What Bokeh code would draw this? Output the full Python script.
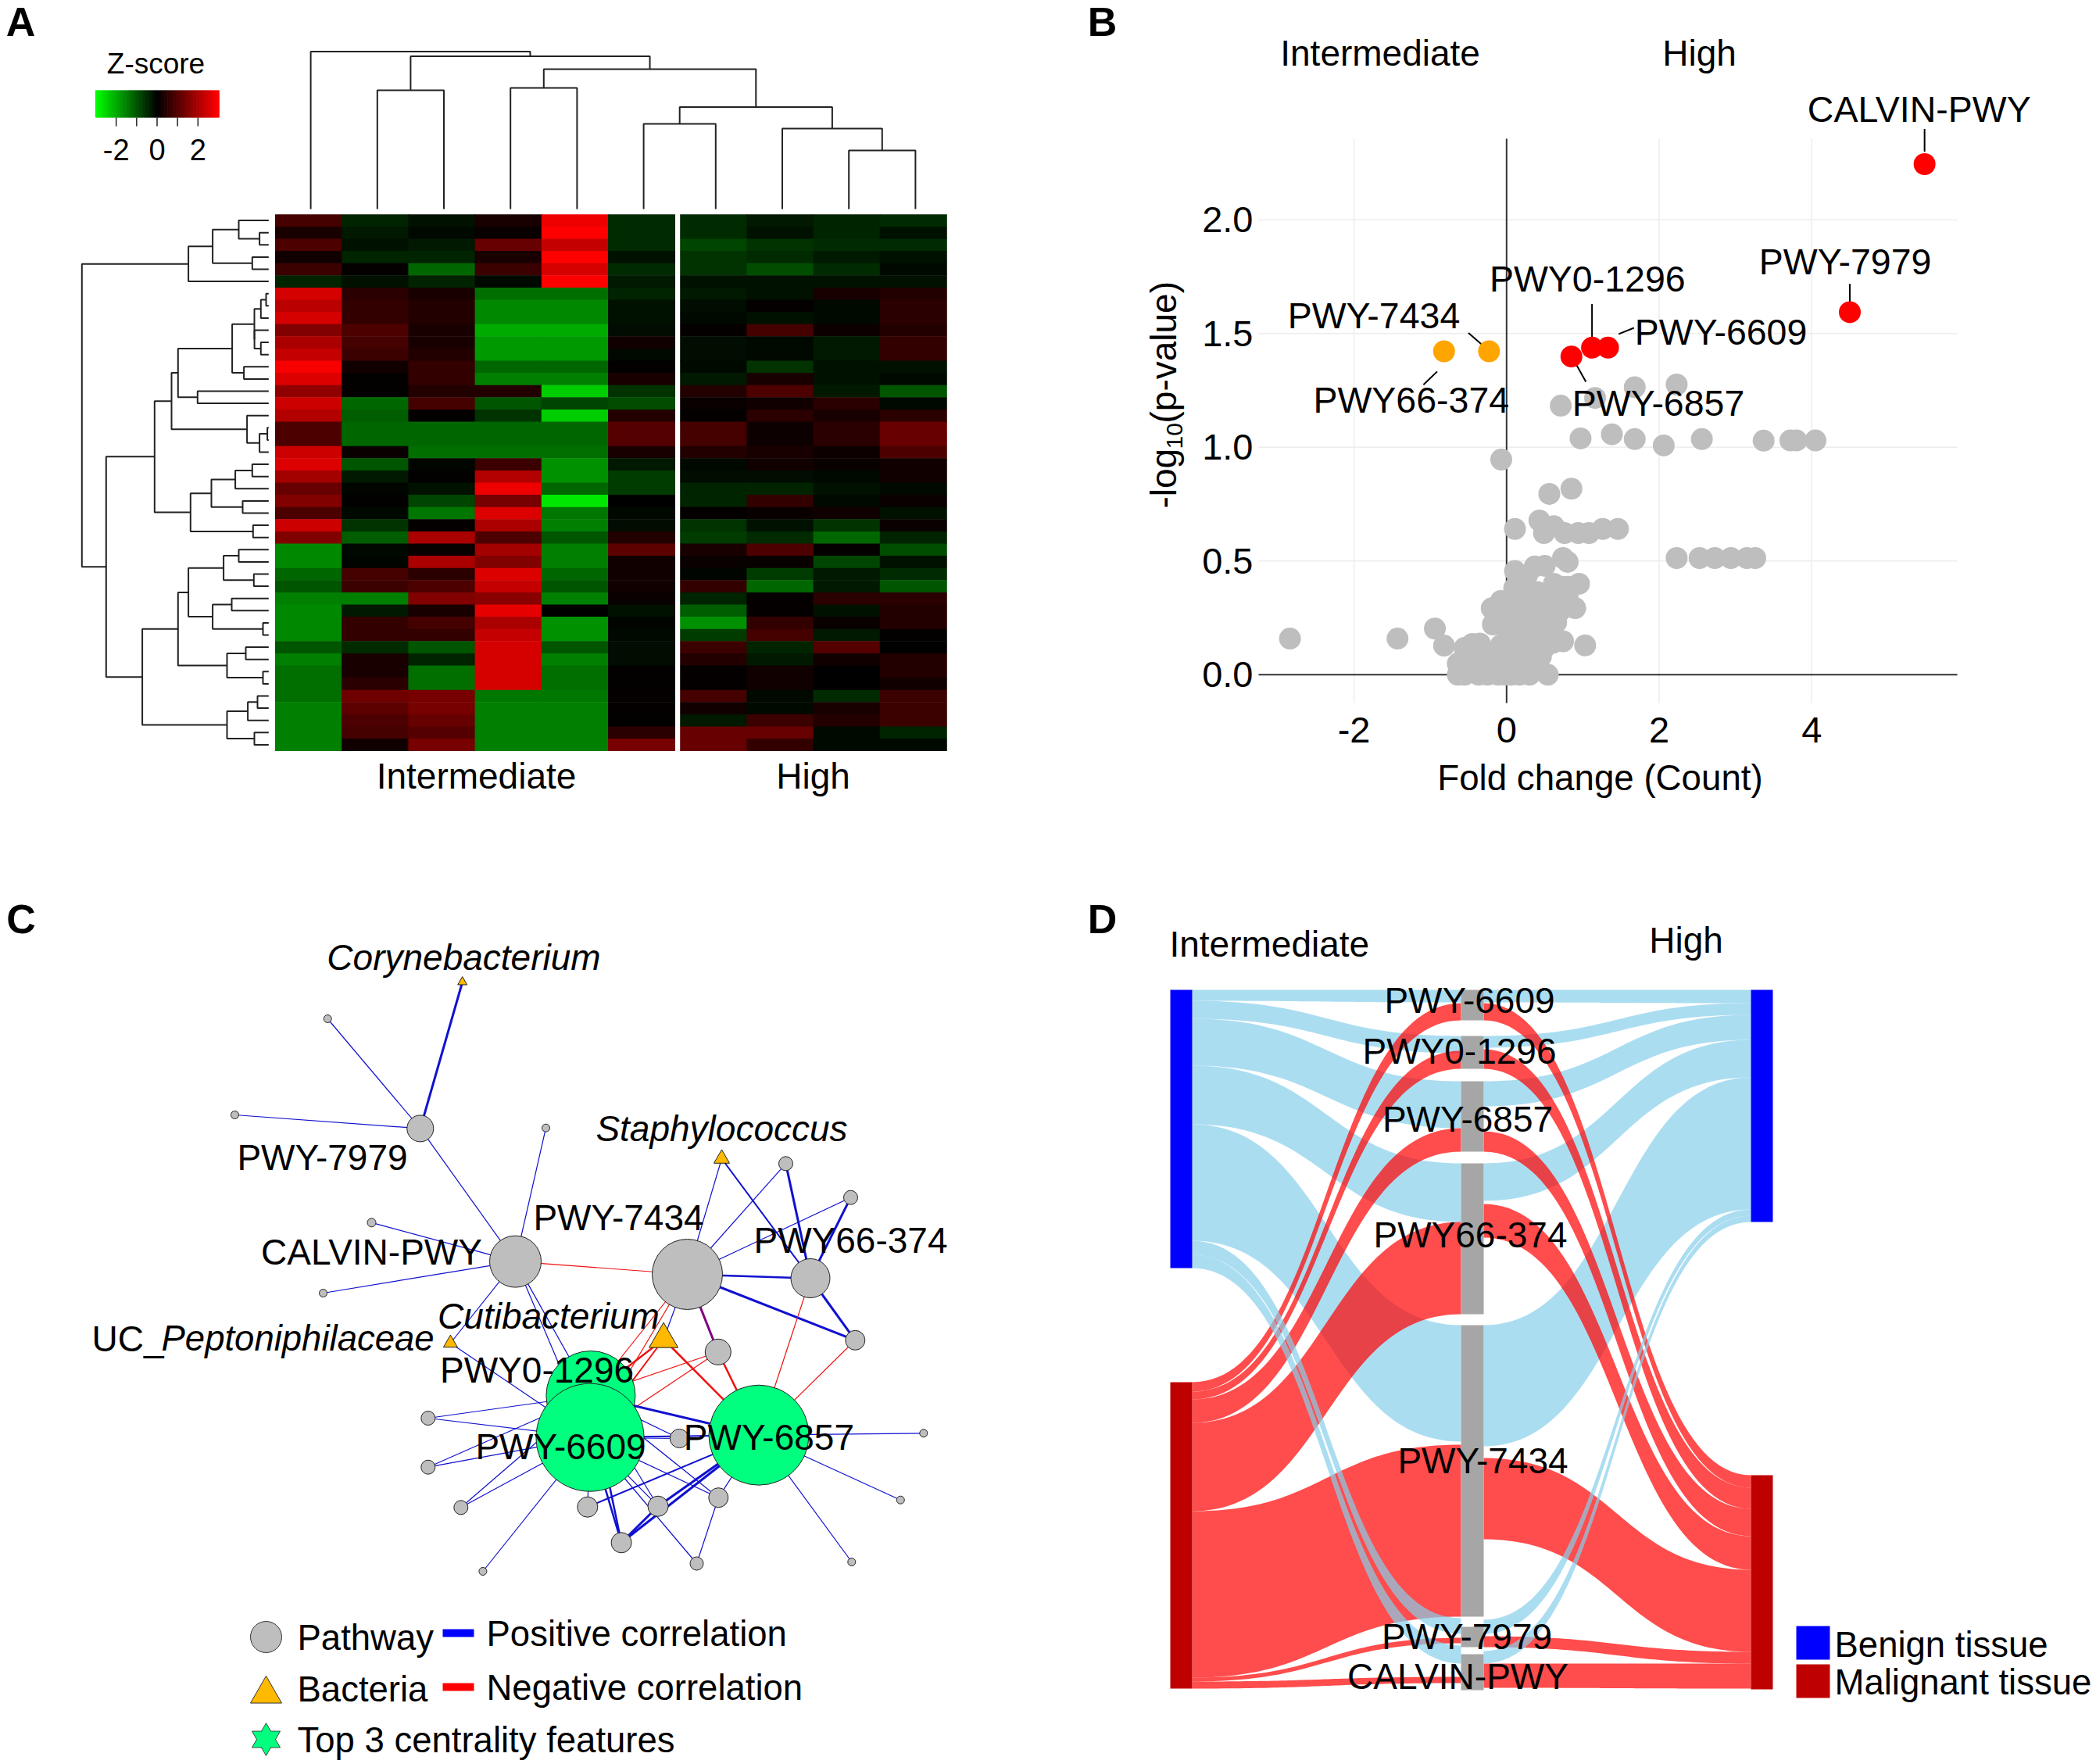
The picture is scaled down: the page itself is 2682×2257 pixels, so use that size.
from bokeh.plotting import figure
from bokeh.layouts import row, column
from bokeh.models import Range1d, LinearAxis, LinearColorMapper, FixedTicker, ColumnDataSource
from bokeh.core.properties import value
from bokeh.transform import transform
from bokeh.embed import file_html
from bokeh.resources import INLINE
import numpy as np

FONT = "Liberation Sans"

# ---------------- Panel A data ----------------
heat_z = [
 [0.8,-0.4,-0.2,0.3,2.8,-0.5,-0.5,-0.3,-0.4,-0.5],
 [0.3,-0.3,-0.1,0.1,3.0,-0.5,-0.5,-0.2,-0.4,-0.2],
 [0.9,-0.2,-0.3,1.2,2.3,-0.5,-0.8,-0.6,-0.5,-0.5],
 [0.2,-0.4,-0.4,0.3,3.0,-0.2,-0.6,-0.5,-0.3,-0.2],
 [0.7,0.05,-1.2,0.7,2.5,-0.5,-0.6,-0.9,-0.5,-0.1],
 [-0.4,-0.2,-0.4,-0.1,3.0,-0.3,-0.2,-0.2,-0.2,-0.2],
 [2.5,0.5,0.3,-1.3,-1.3,-0.4,-0.3,-0.2,0.3,0.4],
 [2.2,0.6,0.4,-1.6,-1.6,-0.2,-0.15,0.05,-0.1,0.5],
 [2.5,0.6,0.4,-1.6,-1.6,-0.2,-0.1,-0.2,-0.1,0.5],
 [1.5,0.9,0.3,-2.0,-2.0,-0.15,0.05,0.8,0.15,0.4],
 [2.0,0.8,0.3,-1.8,-1.8,0.2,-0.15,-0.1,-0.3,0.6],
 [2.3,0.7,0.4,-1.8,-1.8,-0.1,-0.15,-0.1,-0.3,0.6],
 [2.9,0.2,0.6,-1.2,-1.2,0.05,-0.1,-0.6,-0.2,-0.2],
 [2.6,0.03,0.6,-1.5,-1.5,0.3,-0.3,0.3,-0.2,-0.1],
 [1.7,0.03,0.4,0.4,-2.4,-0.6,0.4,0.9,-0.3,-1.0],
 [2.4,-1.2,0.8,-1.0,-0.8,-0.9,0.1,0.2,0.5,-0.1],
 [2.1,-1.1,0.03,-0.6,-2.4,0.4,0.05,0.5,0.3,0.5],
 [0.9,-1.2,-1.2,-1.2,-1.2,1.0,0.8,0.15,0.5,1.2],
 [0.9,-1.2,-1.2,-1.2,-1.2,1.0,0.8,0.15,0.5,1.2],
 [2.4,0.1,-1.3,-1.3,-1.3,0.3,0.4,0.3,0.15,0.9],
 [2.6,-1.0,-0.05,0.7,-1.7,-0.3,-0.1,0.2,0.1,0.2],
 [1.9,-0.3,0.03,2.1,-1.7,-0.7,-0.15,-0.15,-0.1,0.2],
 [1.2,-0.05,-0.2,2.8,-1.2,-0.7,-0.4,-0.4,-0.2,-0.1],
 [1.5,0.03,-0.8,1.4,-2.7,0.02,-0.4,0.6,-0.1,0.1],
 [0.9,-0.1,-1.4,2.6,-1.4,-0.1,0.05,0.1,0.2,-0.2],
 [2.4,-0.6,0.05,2.0,-1.5,-0.15,-0.6,-0.2,-0.6,0.1],
 [1.5,-1.1,2.0,0.9,-1.0,0.4,-0.7,-0.5,-1.2,-0.4],
 [-1.6,-0.1,0.1,1.9,-1.5,1.1,0.3,0.9,0.05,-0.9],
 [-1.6,-0.05,2.0,1.5,-1.5,0.2,0.1,0.1,-0.8,-0.2],
 [-1.2,0.8,0.5,2.6,-1.2,0.2,-0.05,-0.7,-0.3,-0.5],
 [-1.0,0.7,0.9,2.3,-1.0,0.2,0.6,-1.2,-0.3,-1.0],
 [-1.5,-1.5,1.5,1.6,-1.5,0.1,-0.4,0.05,0.5,0.5],
 [-1.6,-0.3,0.3,2.7,0.02,-0.2,-1.1,0.05,-0.2,0.4],
 [-1.6,0.6,0.8,2.0,-1.7,-0.05,-1.7,0.6,0.1,0.4],
 [-1.6,0.6,0.6,2.3,-1.7,-0.1,-0.7,0.8,-0.3,0.03],
 [-1.0,-0.5,-1.0,2.5,-1.0,-0.15,0.7,-0.4,1.0,0.02],
 [-1.5,0.3,-0.4,2.5,-1.5,-0.15,0.4,-0.3,0.2,0.4],
 [-1.3,0.3,-1.3,2.5,-1.3,0.03,0.05,0.2,0.02,0.4],
 [-1.3,0.5,-1.3,2.5,-1.3,0.03,0.05,0.2,0.02,0.2],
 [-1.3,1.3,1.4,-1.4,-1.4,0.05,0.8,-0.1,-0.5,0.7],
 [-1.5,1.1,1.4,-1.5,-1.5,0.05,0.2,-0.1,0.3,0.7],
 [-1.5,0.9,1.2,-1.5,-1.5,0.03,-0.3,0.7,0.4,0.7],
 [-1.5,0.8,1.0,-1.5,-1.5,0.5,1.2,1.2,-0.1,-0.4],
 [-1.5,0.2,1.4,-1.5,-1.5,1.4,1.2,0.6,-0.1,-0.1],
]
# dendrograms: (merge height, left child, right child); ints are leaves
col_tree = (201.5, 0, (195.4, (152, 1, 2), (179, (155, 3, 4),
            (130.5, (109, 5, 6), (103, 7, (75, 8, 9))))))
row_tree = (239,
    (102.7, (71.7, (38.3, 0, (11.7, 1, 2)), (21, 3, 4)), 5),
    (208,
     (146,
      (124.3,
       (116,
        (46.7,
         (18.3, (10, (3.3, 6, 7), 8), (18.2, 9, (10, 10, 11))),
         (31.7, 12, 13)),
        (91, 14, 15)),
       (27.7, 16, (11.7, (1.7, 17, 18), 19))),
      (100,
       (73.3, (42.7, (21, 20, 21), 22), (33.3, 23, 24)),
       (20, 25, 26))),
     (161.7,
      (116,
       (102.7,
        (57.7, (38.3, 27, 28), (19, 29, 30)),
        (71.7, (47.3, 31, 32), (7.3, 33, 34))),
       (53.3, (29.3, 35, 36), (7.3, 37, 38))),
      (53.3, (26.7, (14.3, 39, 40), 41), (18.3, 42, 43))))
)

# ---------------- Panel B data ----------------
gray_fc = [1.68,2.23,1.16,0.71,0.97,1.38,1.68,2.06,2.56,3.37,3.72,3.80,4.05,-0.07,0.56,0.85,
           0.43,0.62,0.11,0.49,0.76,0.94,1.08,1.26,1.46,2.23,2.53,2.73,2.94,3.15,3.26,
           -2.84,-1.43,-0.94,-0.82,-0.55,-0.45,-0.35,-0.64,-0.64,-0.365,-0.45,-0.28,-0.11,-0.075,
           0.06,0.17,0.54,0.40,0.27,0.06,0.2,0.37,0.61,0.74,1.03,-0.18,-0.195,-0.075,0.16,0.33,0.47,
           0.06,0.27,0.16,0.4,0.57,0.71,0.9,0.95,0.8,0.74,0.5,0.37,0.11,0.27,0.81,0.74,0.5,
           -0.55,-0.5,-0.25,-0.2,-0.02,0.0,-0.05,0.1,0.12,0.22,0.3,0.3,0.33,0.45,0.5,-0.3,-0.15,-0.55,-0.1,
           0.0,0.05,0.15,0.25,0.3,0.42,0.5,0.02,-0.1,0.1,0.2,0.38,0.45,0.55,0.65,0.7,0.8,0.15,0.25,0.34,0.48,0.62,0.68,0.8,0.1,0.05]
gray_p = [1.264,1.276,1.217,1.183,1.039,1.057,1.036,1.008,1.036,1.029,1.03,1.03,1.03,0.946,0.795,0.818,
          0.678,0.653,0.641,0.623,0.623,0.623,0.623,0.641,0.641,0.513,0.513,0.513,0.513,0.513,0.513,
          0.159,0.159,0.203,0.128,0.118,0.135,0.137,0.049,0.0,0.0,0.044,0.044,0.0,0.13,
          0.0,0.0,0.0,0.044,0.044,0.09,0.124,0.135,0.141,0.147,0.129,0.221,0.292,0.324,0.215,0.25,0.273,
          0.273,0.296,0.376,0.364,0.353,0.33,0.293,0.40,0.496,0.513,0.479,0.476,0.456,0.439,0.387,0.387,0.227,
          0.0,0.02,0.0,0.02,0.0,0.05,0.09,0.04,0.09,0.08,0.0,0.09,0.03,0.08,0.12,0.08,0.07,0.08,0.1,
          0.2,0.16,0.17,0.18,0.13,0.17,0.17,0.25,0.27,0.26,0.26,0.2,0.3,0.27,0.23,0.28,0.3,0.33,0.36,0.36,0.35,0.4,0.36,0.34,0.38,0.33]
red_fc = [5.48,4.50,1.12,1.33,0.85]
red_p = [2.245,1.594,1.438,1.438,1.399]
orange_fc = [-0.23,-0.82]
orange_p = [1.422,1.422]
x_ticks = [-2, 0, 2, 4]
y_ticks = [0, 0.5, 1.0, 1.5, 2.0]
# text labels and leader lines (x, y in data units)
b_labels = ["CALVIN-PWY","PWY-7979","PWY0-1296","PWY-7434","PWY-6609","PWY66-374","PWY-6857"]
b_label_fc = [5.41,4.44,1.06,-1.74,2.81,-1.25,1.99]
b_label_p = [2.485,1.815,1.74,1.577,1.507,1.208,1.194]
lead_x0 = [5.48,4.50,1.12,1.47,-0.50,-0.91,0.92]
lead_y0 = [2.40,1.718,1.63,1.498,1.503,1.333,1.36]
lead_x1 = [5.48,4.50,1.12,1.67,-0.32,-1.09,1.04]
lead_y1 = [2.30,1.64,1.47,1.525,1.45,1.275,1.288]

# ---------------- Panel C data ----------------
node_name = ["P79","n1","n2","n3","n4","n5","C","P74","P66","p","q","a","b","c","d","e","f","g","h","i","j","k","l","m","n","o"]
node_x = [537.3,418.7,300,698,475,413,659,879,1036.5,1005,1088,547.3,547.3,589.3,751.3,794.6,841.5,918.8,891,617.4,1089.3,1151.8,1181.3,868.8,918.3,1093.8]
node_y = [1443.4,1303,1426,1442.7,1563.8,1654,1613.6,1630,1635,1488.3,1531.7,1814,1876.7,1928.3,1927.7,1973.3,1926.7,1915.7,2000,2010,1998,1918.7,1833.3,1840,1729.3,1714.3]
node_d = [34,10,10,10,11,10,66,90,50,18,18,18,18,18,26,26,26,25,17,10,10,10,10,24,33,25]
tri_name = ["Cory","Stap","Cuti","UC"]
tri_x = [591.2,923,848.6,575.9]
tri_y = [1256,1482,1713,1718]
tri_size = [12,20,37,18]
green_name = ["G1","G2","G3"]
green_x = [755.4,754.5,970.5]
green_y = [1785,1838.7,1835.7]
green_d = [114,138,128]
B, R, P = "#1010D0", "#F01010", "#800080"
edges = [("P79","n1",1.2,B),("P79","n2",1.2,B),("P79","Cory",3,B),("P79","C",1.2,B),("n3","C",1.2,B),("n4","C",1.2,B),("n5","C",1.2,B),
 ("C","P74",1.2,R),("C","UC",1.2,B),("C","G1",1.2,B),("C","G2",1.2,B),("UC","G2",1.2,B),("P74","Stap",1.2,B),("P74","p",1.2,B),("P74","q",1.2,B),
 ("P74","P66",2.5,B),("P74","o",3,B),("P74","n",3,P),("P74","Cuti",1.2,B),("P74","G1",1.2,R),("P74","G2",1.2,R),("Stap","P66",2,B),
 ("p","P66",3,B),("q","P66",3,B),("P66","o",3,B),("P66","G3",1.2,R),("o","G3",1.2,R),("Cuti","G1",2.5,R),("Cuti","G2",2,R),("Cuti","G3",2.5,R),
 ("n","G1",1.2,R),("n","G2",1.2,R),("n","G3",2.5,R),("G1","G3",3,B),("G2","G3",2,B),("a","G1",1.2,B),("a","G2",1.2,B),("b","G1",1.2,B),("b","G2",1.2,B),
 ("c","G1",1.2,B),("c","G2",1.2,B),("i","G2",1.2,B),("d","G2",1.2,B),("d","G3",2,B),("e","G1",2.5,B),("e","G2",2.5,B),("e","f",3,B),("e","G3",3,B),
 ("f","G3",3,B),("f","G1",1.2,B),("f","G2",1.2,B),("g","G1",1.2,B),("g","G2",1.2,B),("g","G3",1.2,B),("h","G2",1.2,B),("h","g",1.2,B),("m","G2",1.2,B),
 ("m","G1",1.2,B),("j","G3",1.2,B),("k","G3",1.2,B),("l","G3",1.2,B)]
c_labels = [("Corynebacterium",593,1224,"italic"),("PWY-7979",412,1480,"normal"),("Staphylococcus",923,1443,"italic"),
 ("PWY-7434",791,1557,"normal"),("CALVIN-PWY",475,1601,"normal"),("PWY66-374",1088,1586.6,"normal"),("Cutibacterium",701.5,1683,"italic"),
 ("PWY0-1296",686.6,1752.5,"normal"),("PWY-6609",717,1850,"normal"),("PWY-6857",983.4,1838,"normal")]

# ---------------- Panel D data ----------------
sankey_nodes_x0 = [1497,1497,1869,1869,1869,1869,1869,1869,1869,2240,2240]
sankey_nodes_x1 = [1525,1525,1898,1898,1898,1898,1898,1898,1898,2268,2268]
sankey_nodes_y0 = [1266,1768,1266,1325,1383,1488,1695,2081,2116,1266,1887]
sankey_nodes_y1 = [1622,2160,1305,1367,1473,1681,2068,2107,2162,1563,2161]
sankey_nodes_c = ["#0000FF","#BF0000"]+["#A6A6A6"]*7+["#0000FF","#BF0000"]
# left -> middle: (side a top, side a bottom, side b top, side b bottom)
blue_left = [(1266,1280,1266,1282),(1280,1303,1325,1347),(1303,1363,1383,1443),(1363,1438,1488,1563),(1438,1587,1695,1844)]
red_left = [(1768,1780,1283,1305),(1780,1790,1344,1367),(1790,1820,1443,1473),(1820,1933,1563,1681),(1933,2146,1848,2068),(2146,2151,2095,2102),(2151,2160,2145,2153)]
late_blue_left = [(1587,1605,2070,2090),(1605,1622,2105,2128)]
blue_right = [(1266,1282,1266,1283),(1325,1340,1283,1298),(1383,1415,1298,1330),(1488,1536,1330,1378),(1695,1850,1378,1547)]
red_right = [(1283,1305,1887,1903),(1342,1367,1903,1930),(1447,1473,1930,1965),(1540,1583,1965,2008),(1865,1969,2008,2113),(2093,2107,2113,2128),(2128,2159,2128,2160)]
late_blue_right = [(2072,2090,1547,1555),(2112,2128,1555,1563)]
d_labels = [("PWY-6609",1880,1279),("PWY0-1296",1867,1344),("PWY-6857",1877.5,1431),("PWY66-374",1881,1579),
            ("PWY-7434",1897,1868),("PWY-7979",1876.5,2093),("CALVIN-PWY",1865,2144)]

# ---------------- helpers ----------------
def canvas(x0, x1, y0, y1):
    p = figure(width=x1-x0, height=y1-y0, x_range=Range1d(x0, x1), y_range=Range1d(y1, y0),
               output_backend="svg", toolbar_location=None, x_axis_location=None, y_axis_location=None,
               min_border=0, outline_line_color=None)
    p.grid.visible = False
    return p

def txt(p, x, y, s, size="46px", align="center", style="normal", color="#000000", baseline="middle", angle=0):
    p.text(x=[x], y=[y], text=[s], text_font=value(FONT), text_font_size=value(size), text_align=align,
           text_baseline=baseline, text_font_style=style, text_color=color, angle=angle)

def tree_segments(node, pos_of):
    xs, ys = [], []
    def walk(n):
        if isinstance(n, int):
            return pos_of(n), 0
        h, l, r = n
        pl, hl = walk(l)
        pr, hr = walk(r)
        xs.append([pl, pl, pr, pr])
        ys.append([hl, h, h, hr])
        return (pl+pr)/2, h
    walk(node)
    return xs, ys

def link_patch(xa, xb, seg):
    a0, a1, b0, b1 = seg
    t = np.linspace(0, 1, 60)
    xm = (xa+xb)/2
    cx = lambda t: (1-t)**3*xa + 3*(1-t)**2*t*xm + 3*(1-t)*t**2*xm + t**3*xb
    cy = lambda t, u, v: (1-t)**3*u + 3*(1-t)**2*t*u + 3*(1-t)*t**2*v + t**3*v
    X = np.concatenate([cx(t), cx(t)[::-1]])
    Y = np.concatenate([cy(t, a0, b0), cy(t, a1, b1)[::-1]])
    return X.tolist(), Y.tolist()

# ---------------- Panel A ----------------
A = canvas(0, 1340, 0, 1130)
CW, CH, HL, HT, GAP = 85.2, 15.6, 351.5, 273.8, 7
col_c = lambda i: HL + CW*(i+.5) + (GAP if i >= 6 else 0)
row_c = lambda i: HT + CH*(i+.5)
pal = ["#%02x%02x00" % (max(0, int(round(v*255))), max(0, int(round(-v*255)))) for v in np.linspace(-1, 1, 256)]
cmap = LinearColorMapper(palette=pal, low=-3, high=3)
hx, hy, hz = [], [], []
for i, r in enumerate(heat_z):
    for j, v in enumerate(r):
        hx.append(col_c(j)); hy.append(row_c(i)); hz.append(v)
A.rect(x="x", y="y", width=CW, height=CH, source=ColumnDataSource(dict(x=hx, y=hy, z=hz)),
       fill_color=transform("z", cmap), line_color=None, dilate=True)
xs, ys = tree_segments(col_tree, lambda i: col_c(i)+3)
A.multi_line(xs=xs, ys=[[267-v for v in y] for y in ys], line_color="#222222", line_width=2)
xs, ys = tree_segments(row_tree, row_c)
A.multi_line(xs=[[343.3-v for v in y] for y in ys], ys=xs, line_color="#222222", line_width=2)
cb_z = np.linspace(-3, 3, 120)
cb_x = lambda z: 122 + (z+3)/6*157
A.rect(x=[cb_x(z) for z in cb_z], y=132.5, width=157/119, height=35,
       fill_color=[pal[min(255, int((z+3)/6*256))] for z in cb_z], line_color=None, dilate=True)
cb_ticks = [-2, -1, 0, 1, 2]
A.segment(x0=[cb_x(z) for z in cb_ticks], y0=150, x1=[cb_x(z) for z in cb_ticks], y1=161, line_color="#222222", line_width=1.5)
for z in [-2, 0, 2]:
    txt(A, cb_x(z), 191, str(z), size="38px")
txt(A, 199, 81, "Z-score", size="37px")
txt(A, 609, 992, "Intermediate")
txt(A, 1040, 992, "High")
txt(A, 26, 27, "A", size="52px", style="bold")

# ---------------- Panel B ----------------
bx = lambda px: (px-1927.3)/97.6
by = lambda py: (862.8-py)/291.0
Bp = figure(width=1340, height=1130, x_range=Range1d(bx(1340), bx(2680)), y_range=Range1d(by(1130), by(0)),
            output_backend="svg", toolbar_location=None, x_axis_location=None, y_axis_location=None,
            min_border=0, outline_line_color=None)
Bp.grid.visible = False
xax = LinearAxis(fixed_location=by(899), ticker=FixedTicker(ticks=x_ticks), major_label_standoff=12,
                 major_label_overrides={-2: "-2", 0: "0", 2: "2", 4: "4"})
yax = LinearAxis(fixed_location=bx(1610), ticker=FixedTicker(ticks=y_ticks), major_label_standoff=1,
                 major_label_overrides={0: "0.0", 0.5: "0.5", 1: "1.0", 1.5: "1.5", 2: "2.0"})
for ax in (xax, yax):
    ax.axis_line_color = None
    ax.major_tick_line_color = None
    ax.minor_tick_line_color = None
    ax.major_label_text_font = FONT
    ax.major_label_text_font_size = "47px"
    ax.major_label_text_color = "#000000"
Bp.add_layout(xax, "below")
Bp.add_layout(yax, "left")
x0, x1, y0, y1 = bx(1610), bx(2504), by(899), by(177)
Bp.segment(x0=x_ticks, y0=y0, x1=x_ticks, y1=y1, line_color="#EDEDED", line_width=1.5)
Bp.segment(x0=x0, y0=y_ticks, x1=x1, y1=y_ticks, line_color="#EDEDED", line_width=1.5)
Bp.segment(x0=[x0, 0], y0=[0, y0], x1=[x1, 0], y1=[0, y1], line_color="#333333", line_width=2)
Bp.segment(x0=lead_x0, y0=lead_y0, x1=lead_x1, y1=lead_y1, line_color="#000000", line_width=2)
Bp.scatter(x=gray_fc, y=gray_p, size=28, fill_color="#BEBEBE", line_color=None)
Bp.scatter(x=red_fc, y=red_p, size=28, fill_color="#FF0000", line_color=None)
Bp.scatter(x=orange_fc, y=orange_p, size=28, fill_color="#FFA500", line_color=None)
for s, xv, yv in zip(b_labels, b_label_fc, b_label_p):
    txt(Bp, xv, yv, s, size="46.5px")
txt(Bp, bx(1765.6), by(67.6), "Intermediate")
txt(Bp, bx(2174), by(67.6), "High")
txt(Bp, bx(2047), by(995), "Fold change (Count)", size="45.7px")
txt(Bp, bx(1410), by(27), "B", size="52px", style="bold")
half = np.pi/2
txt(Bp, bx(1488.5), by(650), "-log", size="46px", align="left", angle=half)
txt(Bp, bx(1502), by(574), "10", size="30px", align="left", angle=half)
txt(Bp, bx(1488.5), by(541), "(p-value)", size="46px", align="left", angle=half)

# ---------------- Panel C ----------------
Cp = canvas(0, 1340, 1130, 2255)
pos = {}
for n, x, y in zip(node_name, node_x, node_y): pos[n] = (x, y)
for n, x, y in zip(tri_name, tri_x, tri_y): pos[n] = (x, y)
for n, x, y in zip(green_name, green_x, green_y): pos[n] = (x, y)
Cp.multi_line(xs=[[pos[a][0], pos[b][0]] for a, b, w, c in edges], ys=[[pos[a][1], pos[b][1]] for a, b, w, c in edges],
              line_width=[w for a, b, w, c in edges], line_color=[c for a, b, w, c in edges])
Cp.scatter(x=node_x, y=node_y, size=node_d, fill_color="#BEBEBE", line_color="#222222", line_width=1)
Cp.scatter(x=tri_x, y=tri_y, size=tri_size, marker="triangle", fill_color="#FFB900", line_color="#222222", line_width=1)
Cp.scatter(x=green_x, y=green_y, size=green_d, fill_color="#00FF7F", line_color="#222222", line_width=1)
for s, x, y, st in c_labels:
    txt(Cp, x, y, s, style=st)
txt(Cp, 117, 1712, "UC_", align="left")
txt(Cp, 206, 1712, "Peptoniphilaceae", size="45.5px", align="left", style="italic")
txt(Cp, 26.5, 1175, "C", size="52px", style="bold")
Cp.scatter(x=[340], y=[2094], size=40, fill_color="#BEBEBE", line_color="#333333", line_width=1)
Cp.scatter(x=[340], y=[2167], size=40, marker="triangle", fill_color="#FFB900", line_color="#333333", line_width=1)
Cp.scatter(x=[340, 340], y=[2225, 2225], size=36, marker=["triangle", "inverted_triangle"], fill_color="#00FF7F", line_color="#333333", line_width=1)
Cp.scatter(x=[340, 340], y=[2225, 2225], size=34, marker=["triangle", "inverted_triangle"], fill_color="#00FF7F", line_color=None)
Cp.rect(x=[586, 586], y=[2089, 2158], width=40, height=10, fill_color=["#0000FF", "#FF0000"], line_color=None)
txt(Cp, 380, 2095, "Pathway", size="45.5px", align="left")
txt(Cp, 380, 2161, "Bacteria", size="45.5px", align="left")
txt(Cp, 380, 2226, "Top 3 centrality features", size="45.5px", align="left")
txt(Cp, 622, 2090, "Positive correlation", size="45.5px", align="left")
txt(Cp, 622, 2159, "Negative correlation", size="45.5px", align="left")

# ---------------- Panel D ----------------
Dp = canvas(1340, 2680, 1130, 2255)
def draw_links(xa, xb, segs, color, alpha):
    X, Y = zip(*[link_patch(xa, xb, s) for s in segs])
    Dp.patches(xs=list(X), ys=list(Y), fill_color=color, fill_alpha=alpha, line_color=None)
LX, MX0, MX1, RX = 1525, 1869, 1898, 2240
draw_links(LX, MX0, blue_left, "#87CEEB", 0.7)
draw_links(MX1, RX, blue_right, "#87CEEB", 0.7)
draw_links(LX, MX0, red_left, "#FF0000", 0.7)
draw_links(MX1, RX, red_right, "#FF0000", 0.7)
draw_links(LX, MX0, late_blue_left, "#87CEEB", 0.7)
draw_links(MX1, RX, late_blue_right, "#87CEEB", 0.7)
Dp.quad(left=sankey_nodes_x0, right=sankey_nodes_x1, top=sankey_nodes_y0, bottom=sankey_nodes_y1,
        fill_color=sankey_nodes_c, line_color=None)
for s, x, y in d_labels:
    txt(Dp, x, y, s)
txt(Dp, 1623.8, 1207.7, "Intermediate")
txt(Dp, 2157, 1202.7, "High")
txt(Dp, 1410, 1175, "D", size="52px", style="bold")
Dp.quad(left=[2298, 2298], right=[2341, 2341], top=[2080, 2129], bottom=[2123, 2172],
        fill_color=["#0000FF", "#BF0000"], line_color=None)
txt(Dp, 2347, 2104, "Benign tissue", size="45.5px", align="left")
txt(Dp, 2347, 2152, "Malignant tissue", size="45.5px", align="left")

page = column(row(A, Bp, spacing=0), row(Cp, Dp, spacing=0), spacing=0)
open("out.html", "w").write(file_html(page, INLINE))
